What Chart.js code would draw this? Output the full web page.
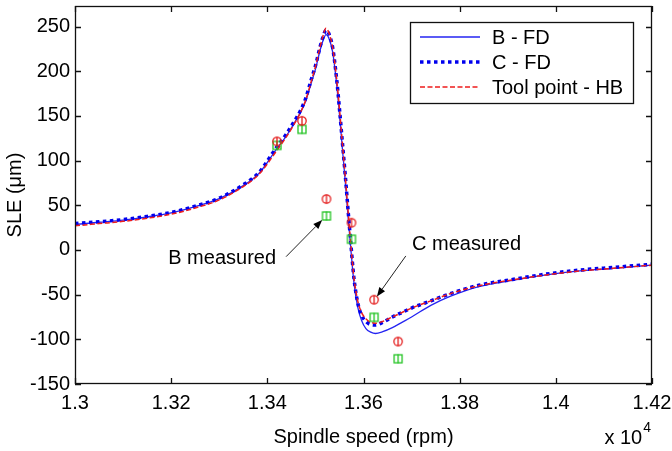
<!DOCTYPE html>
<html>
<head>
<meta charset="utf-8">
<script src="https://cdn.jsdelivr.net/npm/chart.js@4/dist/chart.umd.min.js"></script>
<style>
  html, body { margin: 0; padding: 0; background: #fff; }
  canvas { display: block; }
</style>
</head>
<body>
<canvas id="sle" width="672" height="451"></canvas>
<script>
// Spindle speed samples (rpm) shared by the three predicted curves
const speed = [13000, 13050, 13100, 13150, 13200, 13250, 13300, 13350, 13383, 13418,
               13440, 13455, 13469, 13480, 13492, 13500, 13510, 13515, 13522, 13528,
               13536, 13544, 13550, 13556, 13562, 13568, 13574, 13580, 13588, 13596,
               13605, 13615, 13625, 13640, 13660, 13680, 13700, 13740, 13780, 13840,
               13910, 13980, 14050, 14120, 14200];

// Surface location error (µm) predictions
const sleB = [28.5, 31, 33.5, 37, 41.5, 48.5, 57.5, 72, 86, 112,
              128, 141, 154, 167, 188, 202, 224, 233, 241, 237,
              221, 186, 152, 114, 77, 37, -1, -36, -64, -79,
              -88, -92, -93.5, -91.5, -87, -81, -75, -62, -52, -41,
              -34, -28, -23.5, -20.5, -17];
const sleC = [29.5, 31.5, 34, 37.5, 42, 49, 58, 73, 87, 114,
              130, 143, 156, 170, 192, 206, 228, 237, 246, 242,
              226, 192, 158, 121, 84, 44, 5, -31, -59, -73,
              -80, -83.5, -84, -81, -75, -70, -65, -57, -49, -39.5,
              -33, -27, -22.5, -19.5, -16];
const sleHB = [27, 29.5, 32, 35.5, 40, 47, 56, 71, 85, 110,
               127, 140, 154, 168, 190, 205, 228, 238, 248, 243,
               226, 192, 158, 120, 83, 43, 4, -30, -57, -70,
               -77, -81, -82, -80, -75, -70, -65, -57, -49, -40,
               -33.5, -28, -23.5, -20.5, -17];

// Measured cutting tests
const measSpeed = [13420, 13472, 13523, 13575, 13622, 13672];
const measB = [117, 135, 38, 12, -75.4, -121.8];
const measC = [121.5, 144.5, 57, 30.5, -55.7, -102.5];

const seriesLabels = ['B - FD', 'C - FD', 'Tool point - HB'];

// Callouts: label text, label anchor, arrow tail and arrow head (data units)
const callouts = [
  { text: 'B measured', at: [13306, -9], align: 'center', from: [13439, -7.5], to: [13514, 33.5] },
  { text: 'C measured', at: [13701, 5.6], align: 'left',  from: [13688, -6.7], to: [13628, -52] }
];

const FONT = '"Liberation Sans", Arial, Helvetica, sans-serif';
const FS = 20;

function pts(xs, ys) { return xs.map((x, i) => ({ x: x, y: ys[i] })); }

// Marker glyphs: open circle / open square with a vertical stroke
function glyph(kind, color) {
  const c = document.createElement('canvas');
  c.width = 12; c.height = 12;
  const g = c.getContext('2d');
  g.strokeStyle = color;
  g.lineWidth = 1.3;
  if (kind === 'circle') {
    g.beginPath(); g.arc(6, 6, 4.2, 0, Math.PI * 2); g.stroke();
  } else {
    g.strokeRect(2, 2, 8, 8);
  }
  g.beginPath(); g.moveTo(6, 1.5); g.lineTo(6, 10.5); g.stroke();
  return c;
}

const axesFrame = {
  id: 'axesFrame',
  afterDatasetsDraw(chart) {
    const { ctx, chartArea: a, scales } = chart;
    ctx.save();
    ctx.strokeStyle = '#111';
    ctx.lineWidth = 1.3;
    ctx.strokeRect(a.left + 0.5, a.top + 0.5, a.right - a.left - 1, a.bottom - a.top - 1);
    const tl = 6;
    ctx.beginPath();
    scales.x.ticks.forEach(t => {
      const px = Math.round(scales.x.getPixelForValue(t.value)) + 0.5;
      ctx.moveTo(px, a.bottom); ctx.lineTo(px, a.bottom - tl);
      ctx.moveTo(px, a.top); ctx.lineTo(px, a.top + tl);
    });
    scales.y.ticks.forEach(t => {
      const py = Math.round(scales.y.getPixelForValue(t.value)) + 0.5;
      ctx.moveTo(a.left, py); ctx.lineTo(a.left + tl, py);
      ctx.moveTo(a.right, py); ctx.lineTo(a.right - tl, py);
    });
    ctx.stroke();

    // exponent of the x axis
    ctx.fillStyle = '#000';
    ctx.textAlign = 'right';
    ctx.textBaseline = 'alphabetic';
    ctx.font = '14px ' + FONT;
    const w4 = ctx.measureText('4').width;
    ctx.fillText('4', a.right - 1, 432);
    ctx.font = FS + 'px ' + FONT;
    ctx.fillText('x 10', a.right - 2 - w4, 444);

    // callouts
    callouts.forEach(c => {
      const tx = scales.x.getPixelForValue(c.at[0]);
      const ty = scales.y.getPixelForValue(c.at[1]);
      ctx.textAlign = c.align;
      ctx.textBaseline = 'middle';
      ctx.font = FS + 'px ' + FONT;
      ctx.fillText(c.text, tx, ty);
      const x0 = scales.x.getPixelForValue(c.from[0]), y0 = scales.y.getPixelForValue(c.from[1]);
      const x1 = scales.x.getPixelForValue(c.to[0]), y1 = scales.y.getPixelForValue(c.to[1]);
      const ang = Math.atan2(y1 - y0, x1 - x0);
      const hl = 9, hw = 3.5;
      const bx = x1 - hl * Math.cos(ang), by = y1 - hl * Math.sin(ang);
      ctx.strokeStyle = '#222';
      ctx.lineWidth = 1;
      ctx.beginPath(); ctx.moveTo(x0, y0); ctx.lineTo(bx, by); ctx.stroke();
      ctx.fillStyle = '#000';
      ctx.beginPath();
      ctx.moveTo(x1, y1);
      ctx.lineTo(bx + hw * Math.sin(ang), by - hw * Math.cos(ang));
      ctx.lineTo(bx - hw * Math.sin(ang), by + hw * Math.cos(ang));
      ctx.closePath(); ctx.fill();
    });

    // legend box in the upper right corner of the axes
    const lw = 223, lh = 81;
    const lx = a.right - 19 - lw, ly = a.top + 16;
    ctx.fillStyle = '#fff';
    ctx.fillRect(lx, ly, lw, lh);
    ctx.strokeStyle = '#111';
    ctx.lineWidth = 1.3;
    ctx.strokeRect(lx + 0.5, ly + 0.5, lw, lh);
    chart.data.datasets.forEach(ds => {
      const k = seriesLabels.indexOf(ds.label);
      if (k < 0) return;
      const ry = ly + 15 + k * 25;
      ctx.save();
      ctx.strokeStyle = ds.borderColor;
      ctx.lineWidth = ds.borderWidth;
      ctx.lineCap = 'butt';
      ctx.setLineDash(ds.borderDash || []);
      ctx.beginPath(); ctx.moveTo(lx + 10, ry); ctx.lineTo(lx + 70, ry); ctx.stroke();
      ctx.restore();
      ctx.fillStyle = '#000';
      ctx.textAlign = 'left';
      ctx.textBaseline = 'middle';
      ctx.font = FS + 'px ' + FONT;
      ctx.fillText(ds.label, lx + 82, ry + 1);
    });
    ctx.restore();
  }
};

new Chart(document.getElementById('sle'), {
  type: 'line',
  data: {
    datasets: [
      { label: seriesLabels[0], data: pts(speed, sleB), borderColor: '#2424f2', borderWidth: 1.3,
        pointRadius: 0, cubicInterpolationMode: 'monotone', order: 2 },
      { label: seriesLabels[1], data: pts(speed, sleC), borderColor: '#0000ee', borderWidth: 3.5,
        borderDash: [3.5, 3.5], borderCapStyle: 'butt', pointRadius: 0, cubicInterpolationMode: 'monotone', order: 1 },
      { label: seriesLabels[2], data: pts(speed, sleHB), borderColor: '#ee1c1c', borderWidth: 1.5,
        borderDash: [5, 2.5], pointRadius: 0, cubicInterpolationMode: 'monotone', order: 0 },
      { label: 'B measured', data: pts(measSpeed, measB), showLine: false,
        pointStyle: glyph('square', '#22c422'), pointRadius: 5, order: -1 },
      { label: 'C measured', data: pts(measSpeed, measC), showLine: false,
        pointStyle: glyph('circle', '#e41e1e'), pointRadius: 5, order: -2 }
    ]
  },
  options: {
    responsive: false,
    animation: false,
    events: [],
    layout: { padding: { top: 4, right: 20, bottom: 0, left: 0 } },
    plugins: { legend: { display: false }, tooltip: { enabled: false } },
    scales: {
      x: {
        type: 'linear', min: 13000, max: 14200,
        afterFit(s) { s.height = 67; s.paddingLeft = 0; s.paddingRight = 0; },
        grid: { display: false, drawTicks: false },
        border: { display: false },
        ticks: {
          stepSize: 200, padding: 7, color: '#000', maxRotation: 0, autoSkip: false,
          font: { family: FONT, size: FS },
          callback: v => String(parseFloat((v / 10000).toFixed(4)))
        },
        title: { display: true, text: 'Spindle speed (rpm)', color: '#000',
                 font: { family: FONT, size: FS }, padding: { top: 0, bottom: 2 } }
      },
      y: {
        type: 'linear', min: -150, max: 273,
        afterFit(s) { s.width = 75; s.paddingTop = 0; s.paddingBottom = 0; },
        grid: { display: false, drawTicks: false },
        border: { display: false },
        ticks: { stepSize: 50, includeBounds: false, padding: 5, color: '#000',
                 font: { family: FONT, size: FS } },
        title: { display: true, text: 'SLE (μm)', color: '#000',
                 font: { family: FONT, size: FS }, padding: { top: 3, bottom: 0 } }
      }
    }
  },
  plugins: [axesFrame]
});
</script>
</body>
</html>
